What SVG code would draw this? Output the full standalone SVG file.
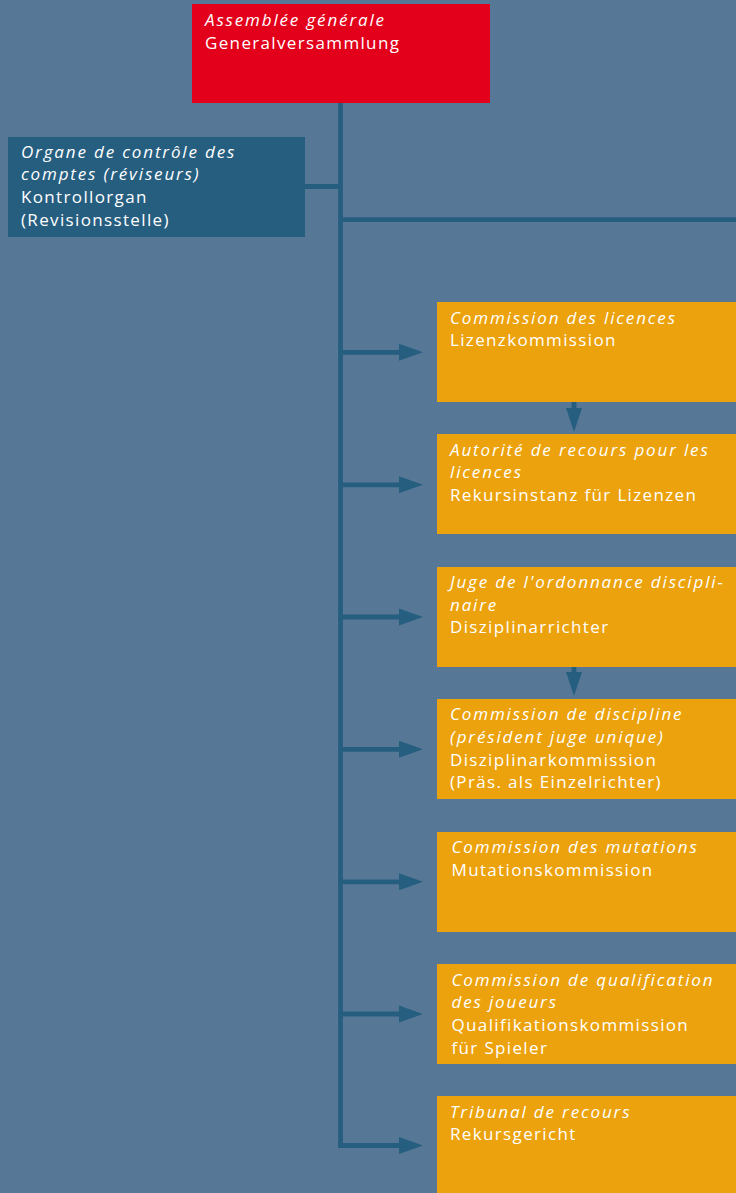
<svg xmlns="http://www.w3.org/2000/svg" width="736" height="1193" viewBox="0 0 736 1193">
  <style>
    .bg { fill: #567896; }
    .top { fill: #e2001a; }
    .audit { fill: #265e80; }
    .org { fill: #eca20c; }
    .wire { fill: none; stroke: #265e80; stroke-width: 4.8; stroke-linejoin: miter; stroke-linecap: butt; }
    .head { fill: #265e80; }
    text { font-family: "Open Sans", "Noto Sans", sans-serif; font-size: 17px; fill: #ffffff; letter-spacing: 1.35px; }
    .fr { font-style: italic; letter-spacing: 1.85px; }
  </style>

  <rect class="bg" x="0" y="0" width="736" height="1193"/>

  <!-- connectors -->
  <g id="connectors">
    <path class="wire" d="M340.5 103 V1145.5 H400"/>
    <path class="wire" d="M305 186.5 H340.5"/>
    <path class="wire" d="M340.5 219.7 H736"/>
    <path class="wire" d="M340.5 352.3 H400"/>
    <path class="wire" d="M340.5 484.8 H400"/>
    <path class="wire" d="M340.5 617 H400"/>
    <path class="wire" d="M340.5 749.3 H400"/>
    <path class="wire" d="M340.5 881.8 H400"/>
    <path class="wire" d="M340.5 1014 H400"/>
    <polygon class="head" points="399,343.8 423,352.3 399,360.8"/>
    <polygon class="head" points="399,476.3 423,484.8 399,493.3"/>
    <polygon class="head" points="399,608.5 423,617 399,625.5"/>
    <polygon class="head" points="399,740.8 423,749.3 399,757.8"/>
    <polygon class="head" points="399,873.3 423,881.8 399,890.3"/>
    <polygon class="head" points="399,1005.5 423,1014 399,1022.5"/>
    <polygon class="head" points="399,1137 423,1145.5 399,1154"/>
    <!-- vertical links between stacked commissions -->
    <path class="wire" d="M574 401 V409"/>
    <polygon class="head" points="566,408 582,408 574,432"/>
    <path class="wire" d="M574 666 V673"/>
    <polygon class="head" points="566,672 582,672 574,696"/>
  </g>

  <g id="assemblee">
    <rect class="top" x="192" y="4" width="298" height="99"/>
    <text x="205" y="26"><tspan class="fr">Assemblée générale</tspan><tspan x="205" y="49">Generalversammlung</tspan></text>
  </g>

  <g id="controle">
    <rect class="audit" x="8" y="137" width="297" height="100"/>
    <text x="21" y="157.5"><tspan class="fr">Organe de contrôle des</tspan><tspan class="fr" x="21" y="180.2">comptes (réviseurs)</tspan><tspan x="21" y="202.9">Kontrollorgan</tspan><tspan x="21" y="225.6">(Revisionsstelle)</tspan></text>
  </g>

  <g id="licences">
    <rect class="org" x="437" y="302" width="299" height="100"/>
    <text x="450" y="323.5"><tspan class="fr">Commission des licences</tspan><tspan x="450" y="346.2">Lizenzkommission</tspan></text>
  </g>

  <g id="recours-licences">
    <rect class="org" x="437" y="434" width="299" height="100"/>
    <text x="450" y="455.7"><tspan class="fr">Autorité de recours pour les</tspan><tspan class="fr" x="450" y="478.4">licences</tspan><tspan x="450" y="501.1">Rekursinstanz für Lizenzen</tspan></text>
  </g>

  <g id="juge-disciplinaire">
    <rect class="org" x="437" y="567" width="299" height="100"/>
    <text x="450" y="587.8"><tspan class="fr">Juge de l'ordonnance discipli-</tspan><tspan class="fr" x="450" y="610.5">naire</tspan><tspan x="450" y="633.2">Disziplinarrichter</tspan></text>
  </g>

  <g id="discipline">
    <rect class="org" x="437" y="699" width="299" height="100"/>
    <text x="450" y="720.3"><tspan class="fr">Commission de discipline</tspan><tspan class="fr" x="450" y="743">(président juge unique)</tspan><tspan x="450" y="765.7">Disziplinarkommission</tspan><tspan x="450" y="788.4">(Präs. als Einzelrichter)</tspan></text>
  </g>

  <g id="mutations">
    <rect class="org" x="437" y="832" width="299" height="100"/>
    <text x="451.5" y="853"><tspan class="fr">Commission des mutations</tspan><tspan x="451.5" y="875.7">Mutationskommission</tspan></text>
  </g>

  <g id="qualification">
    <rect class="org" x="437" y="964" width="299" height="100"/>
    <text x="451.5" y="985.7"><tspan class="fr">Commission de qualification</tspan><tspan class="fr" x="451.5" y="1008.4">des joueurs</tspan><tspan x="451.5" y="1031.1">Qualifikationskommission</tspan><tspan x="451.5" y="1053.8">für Spieler</tspan></text>
  </g>

  <g id="tribunal">
    <rect class="org" x="437" y="1096" width="299" height="97"/>
    <text x="450" y="1117.7"><tspan class="fr">Tribunal de recours</tspan><tspan x="450" y="1140.4">Rekursgericht</tspan></text>
  </g>
</svg>
